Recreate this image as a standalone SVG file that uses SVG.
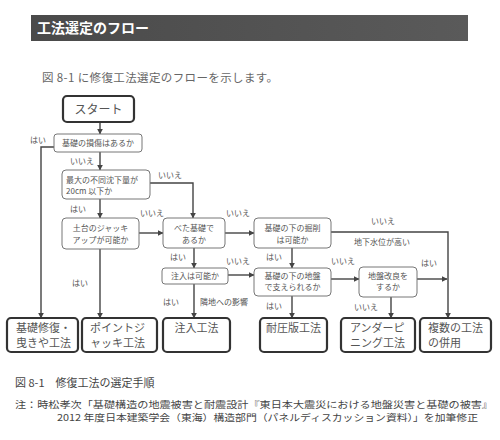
<svg xmlns="http://www.w3.org/2000/svg" width="500" height="440" viewBox="0 0 500 440">
<defs>
<linearGradient id="bar" x1="0" y1="0" x2="1" y2="0">
<stop offset="0" stop-color="#4a4a4a"/><stop offset="1" stop-color="#5a5a5a"/>
</linearGradient>
<marker id="ar" viewBox="0 0 10 10" refX="9" refY="5" markerWidth="6" markerHeight="6" orient="auto" markerUnits="userSpaceOnUse">
<path d="M0,0 L10,5 L0,10 z" fill="#444"/>
</marker>
</defs>
<style>
text{font-family:"Noto Sans CJK JP","Noto Sans",sans-serif;fill:#555}
.q{fill:#fff;stroke:#777;stroke-width:1}
.r{fill:#fff;stroke:#333;stroke-width:2.2}
.s{font-size:8px;text-anchor:middle}
.l{font-size:8px}
.b{font-size:11px}
.c line,.c polyline{fill:none;stroke:#444;stroke-width:1.4}
</style>
<rect x="31" y="15" width="437" height="26" fill="url(#bar)"/>
<text x="37" y="33" style="font-size:14px;font-weight:bold;fill:#fff">工法選定のフロー</text>
<text x="42" y="82" style="font-size:11.5px;fill:#666" textLength="236">図 8-1 に修復工法選定のフローを示します。</text>

<g class="c">
<line x1="100" y1="122" x2="100" y2="134" marker-end="url(#ar)"/>
<line x1="100" y1="152" x2="100" y2="170" marker-end="url(#ar)"/>
<polyline points="54,147 41,147 41,318" marker-end="url(#ar)"/>
<line x1="100" y1="199" x2="100" y2="218" marker-end="url(#ar)"/>
<polyline points="150,183 193,183 193,218" marker-end="url(#ar)"/>
<line x1="139" y1="233" x2="163" y2="233" marker-end="url(#ar)"/>
<line x1="100" y1="249" x2="100" y2="318" marker-end="url(#ar)"/>
<line x1="225" y1="233" x2="254" y2="233" marker-end="url(#ar)"/>
<line x1="194" y1="248" x2="194" y2="268" marker-end="url(#ar)"/>
<line x1="228" y1="275" x2="254" y2="275" marker-end="url(#ar)"/>
<line x1="194" y1="284" x2="194" y2="318" marker-end="url(#ar)"/>
<line x1="292" y1="248" x2="292" y2="268" marker-end="url(#ar)"/>
<polyline points="331,232 448,232 448,318" marker-end="url(#ar)"/>
<line x1="331" y1="279" x2="359" y2="279" marker-end="url(#ar)"/>
<line x1="292" y1="296" x2="292" y2="318" marker-end="url(#ar)"/>
<line x1="417" y1="279" x2="447" y2="279" marker-end="url(#ar)"/>
<line x1="391" y1="297" x2="391" y2="318" marker-end="url(#ar)"/>
</g>

<g id="start"><rect class="r" x="63" y="96" width="71" height="26" rx="4"/><text x="98.5" y="114" style="font-size:12px;text-anchor:middle">スタート</text></g>
<g id="n1"><rect class="q" x="54" y="134" width="88" height="18" rx="3"/><text class="s" x="98" y="146">基礎の損傷はあるか</text></g>
<g id="n2"><rect class="q" x="62" y="170" width="88" height="29" rx="4"/><text class="l" x="66" y="183">最大の不同沈下量が</text><text class="l" x="66" y="194">20cm 以下か</text></g>
<g id="n3"><rect class="q" x="62" y="218" width="77" height="31" rx="4"/><text class="s" x="100.5" y="231">土台のジャッキ</text><text class="s" x="100.5" y="243">アップが可能か</text></g>
<g id="n4"><rect class="q" x="163" y="218" width="62" height="30" rx="4"/><text class="s" x="194" y="231">べた基礎で</text><text class="s" x="194" y="243">あるか</text></g>
<g id="n5"><rect class="q" x="162" y="268" width="66" height="16" rx="3"/><text class="s" x="195" y="279">注入は可能か</text></g>
<g id="n6"><rect class="q" x="254" y="218" width="77" height="30" rx="4"/><text class="s" x="292.5" y="231">基礎の下の掘削</text><text class="s" x="292.5" y="243">は可能か</text></g>
<g id="n7"><rect class="q" x="254" y="268" width="77" height="28" rx="4"/><text class="s" x="292.5" y="279">基礎の下の地盤</text><text class="s" x="292.5" y="290">で支えられるか</text></g>
<g id="n8"><rect class="q" x="359" y="267" width="58" height="30" rx="4"/><text class="s" x="388" y="279">地盤改良を</text><text class="s" x="388" y="290">するか</text></g>

<g id="b1"><rect class="r" x="7" y="318" width="71" height="34" rx="4"/><text class="b" x="16" y="332">基礎修復・</text><text class="b" x="16" y="347">曳きや工法</text></g>
<g id="b2"><rect class="r" x="82" y="318" width="75" height="34" rx="4"/><text class="b" x="90" y="332">ポイントジ</text><text class="b" x="90" y="347">ャッキ工法</text></g>
<g id="b3"><rect class="r" x="163" y="318" width="67" height="34" rx="4"/><text class="b" x="196.5" y="332" style="text-anchor:middle">注入工法</text></g>
<g id="b4"><rect class="r" x="260" y="318" width="67" height="34" rx="4"/><text class="b" x="293.5" y="332" style="text-anchor:middle">耐圧版工法</text></g>
<g id="b5"><rect class="r" x="341" y="318" width="74" height="34" rx="4"/><text class="b" x="350" y="332">アンダーピ</text><text class="b" x="350" y="347">ニング工法</text></g>
<g id="b6"><rect class="r" x="420" y="318" width="71" height="34" rx="4"/><text class="b" x="428" y="332">複数の工法</text><text class="b" x="428" y="347">の併用</text></g>

<g id="labels">
<text class="l" x="30" y="143">はい</text>
<text class="l" x="70" y="164">いいえ</text>
<text class="l" x="158" y="178">いいえ</text>
<text class="l" x="70" y="212">はい</text>
<text class="l" x="140" y="216">いいえ</text>
<text class="l" x="72" y="286">はい</text>
<text class="l" x="226" y="216">いいえ</text>
<text class="l" x="170" y="260">はい</text>
<text class="l" x="226" y="264">いいえ</text>
<text class="l" x="163" y="305">はい</text>
<text class="l" x="200" y="305">隣地への影響</text>
<text class="l" x="266" y="260">はい</text>
<text class="l" x="371" y="224">いいえ</text>
<text class="l" x="354" y="245">地下水位が高い</text>
<text class="l" x="331" y="264">いいえ</text>
<text class="l" x="421" y="266">はい</text>
<text class="l" x="266" y="309">はい</text>
<text class="l" x="354" y="310">いいえ</text>
</g>

<text x="15" y="387" style="font-size:11px;fill:#444">図 8-1　修復工法の選定手順</text>
<text x="15" y="408" style="font-size:9.5px;fill:#444" textLength="478" lengthAdjust="spacingAndGlyphs">注：時松孝次「基礎構造の地震被害と耐震設計『東日本大震災における地盤災害と基礎の被害』</text>
<text x="57" y="421" style="font-size:9.5px;fill:#444" textLength="421" lengthAdjust="spacingAndGlyphs">2012 年度日本建築学会（東海）構造部門（パネルディスカッション資料）」を加筆修正</text>
</svg>
